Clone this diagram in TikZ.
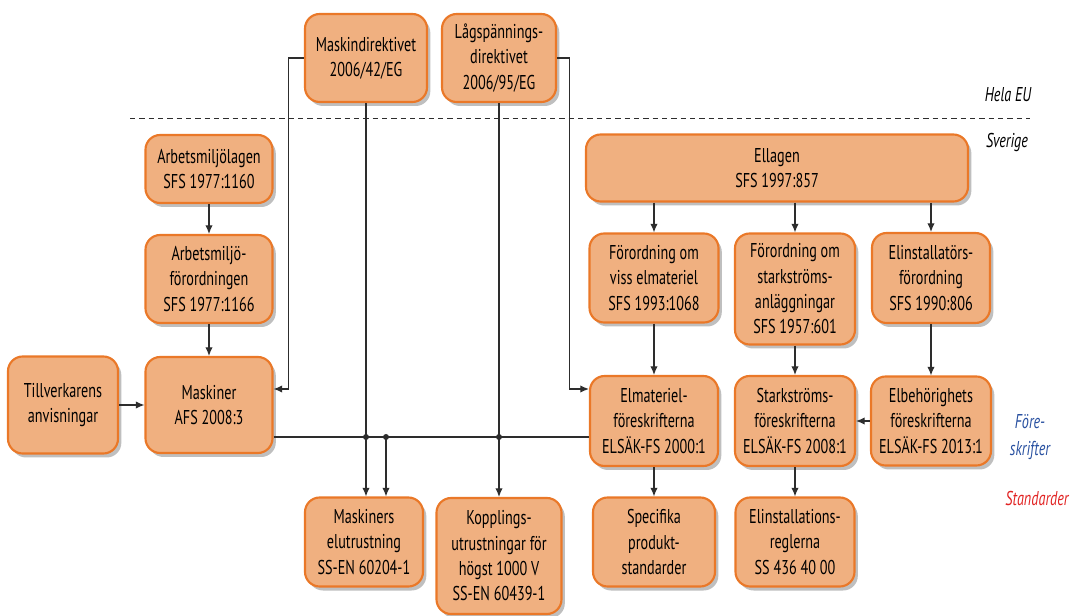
\documentclass[tikz,border=0pt]{standalone}
\usepackage{fontspec}
\setmainfont{PT Sans}[FakeStretch=0.71]
\usepackage{tikz}
\usetikzlibrary{shadows,calc,arrows.meta}

\definecolor{boxfill}{RGB}{240,176,128}
\definecolor{boxline}{RGB}{234,120,40}
\definecolor{linegray}{RGB}{45,45,45}
\definecolor{foreblue}{RGB}{40,80,160}
\definecolor{stdred}{RGB}{225,35,35}

\begin{document}
\begin{tikzpicture}[x=0.75pt,y=0.75pt,yscale=-1,xscale=1,
	box/.style 2 args={draw=boxline,fill=boxfill,line width=1.6pt,rounded corners=11pt,
		align=center,inner sep=2pt,minimum width=#1*0.75pt,minimum height=#2*0.75pt,
		font=\fontsize{15}{19}\selectfont,
		drop shadow={shadow xshift=2.5pt,shadow yshift=-3pt,opacity=0.25,fill=black}},
	arr/.style={draw=linegray,line width=0.8pt,-{Latex[length=6.5pt,width=5.5pt]}},
	wire/.style={draw=linegray,line width=0.8pt},
	dot/.style={fill=linegray,circle,inner sep=0pt,minimum size=4.5pt},
	lbl/.style={font=\fontsize{15}{20}\selectfont\itshape,align=center}]
\useasboundingbox (0,0) rectangle (1075,616);

%EU level
\node [box={122}{88}] (maskdir) at (366,58) {Maskindirektivet\\2006/42/EG};
\node [box={114}{88}] (lagsp) at (499,58) {Lågspännings-\\direktivet\\2006/95/EG};
%Dashed line
\draw [wire,dashed,dash pattern=on 4pt off 3pt,line width=0.7pt] (130,118) -- (1030,118);
% Text Node
\node [lbl] (helaeu) at (1008,95) {Hela EU};
\node [lbl] (sverige) at (1007,143) {Sverige};
\node [lbl,text=foreblue] (foreskr) at (1030,437) {Före-\\skrifter};
\node [lbl,text=stdred] (standard) at (1037,498) {Standarder};

%Left column
\node [box={127}{68}] (arblag) at (209,169) {Arbetsmiljölagen\\SFS 1977:1160};
\node [box={127}{88}] (arbforord) at (209,279) {Arbetsmiljö-\\förordningen\\SFS 1977:1166};
\node [box={127}{96}] (maskiner) at (209,405) {Maskiner\\AFS 2008:3};
\node [box={110}{97}] (tillv) at (63,405) {Tillverkarens\\anvisningar};

%Ellagen and its branches
\node [box={382}{67}] (ellagen) at (777,168) {Ellagen\\SFS 1997:857};
\node [box={129}{89}] (fviss) at (654,278) {Förordning om\\viss elmateriel\\SFS 1993:1068};
\node [box={120}{111}] (fstark) at (795,289) {Förordning om\\starkströms-\\anläggningar\\SFS 1957:601};
\node [box={118}{90}] (elinst) at (931,278) {Elinstallatörs-\\förordning\\SFS 1990:806};

%Föreskrifter
\node [box={128}{90}] (elmatfs) at (654,421) {Elmateriel-\\föreskrifterna\\ELSÄK-FS 2000:1};
\node [box={120}{90}] (starkfs) at (795,421) {Starkströms-\\föreskrifterna\\ELSÄK-FS 2008:1};
\node [box={120}{89}] (elbehfs) at (931,421) {Elbehörighets\\föreskrifterna\\ELSÄK-FS 2013:1};

%Standarder
\node [box={118}{89}] (maskel) at (364,542) {Maskiners\\elutrustning\\SS-EN 60204-1};
\node [box={125}{116}] (koppl) at (499,556) {Kopplings-\\utrustningar för\\högst 1000 V\\SS-EN 60439-1};
\node [box={122}{89}] (specifika) at (654,542) {Specifika\\produkt-\\standarder};
\node [box={119}{89}] (elinstregl) at (795,542) {Elinstallations-\\reglerna\\SS 436 40 00};

%Straight Lines
\draw [arr] (arblag) -- (arbforord);
\draw [arr] (arbforord) -- (maskiner);
\draw [arr] (tillv) -- (maskiner);
\draw [arr] (maskdir.west) -- ++(-15,0) |- ($(maskiner.east)+(0,-16)$);
\draw [arr] (lagsp.east) -- ++(12,0) |- ($(elmatfs.west)+(0,-32)$);
\draw [arr] (ellagen.south -| fviss) -- (fviss);
\draw [arr] (ellagen.south -| fstark) -- (fstark);
\draw [arr] (ellagen.south -| elinst) -- (elinst);
\draw [arr] (fviss) -- (elmatfs);
\draw [arr] (fstark) -- (starkfs);
\draw [arr] (elinst) -- (elbehfs);
\draw [arr] (elbehfs) -- (starkfs);
\draw [arr] (elmatfs) -- (specifika);
\draw [arr] (starkfs) -- (elinstregl);

%Bus between Maskiner and Elmateriel
\coordinate (busL) at ($(maskiner.east)+(0,32)$);
\draw [wire] (busL) -- (busL -| elmatfs.west);
\coordinate (j1) at (maskdir.south |- busL);
\coordinate (j2) at ($(j1)+(20,0)$);
\coordinate (j3) at (lagsp.south |- busL);
\draw [arr] (maskdir.south) -- (maskdir.south |- maskel.north);
\draw [arr] (j2) -- (j2 |- maskel.north);
\draw [arr] (lagsp.south) -- (lagsp.south |- koppl.north);
\node [dot] at (j1) {};
\node [dot] at (j2) {};
\node [dot] at (j3) {};

\end{tikzpicture}
\end{document}
